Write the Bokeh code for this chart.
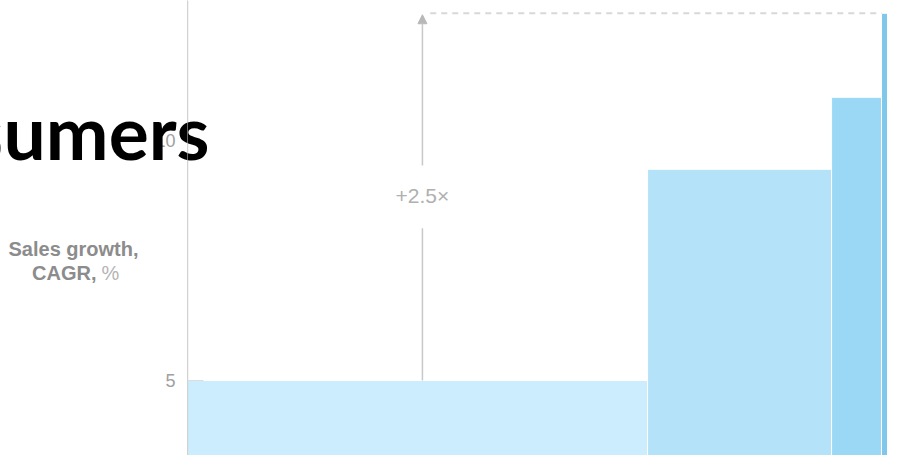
from bokeh.plotting import figure
from bokeh.models import Range1d, FixedTicker, Label, Arrow, NormalHead
from bokeh.layouts import row
from bokeh.embed import file_html
from bokeh.resources import INLINE

# ---- data ----
segments = ["Segment A", "Segment B", "Segment C", "Segment D"]
widths = [47.0, 18.8, 5.1, 10.0]          # relative share (bar width)
growth = [5.0, 9.4, 10.9, 12.65]          # Sales growth, CAGR, %
colors = ["#CBEDFD", "#B4E2F8", "#9AD8F6", "#7FC8EC"]
y_ticks = [5, 10]
y_tick_labels = ["5", "10"]
multiple_label = "+2.5\u00d7"
title_fragment = "sumers"
axis_title_1 = "Sales growth,"
axis_title_2 = "CAGR,"
axis_title_3 = "%"

lefts, rights = [], []
acc = 0.0
for w in widths:
    lefts.append(acc)
    rights.append(acc + w)
    acc += w

H = 455
LEFT_W = 187
MAIN_W = 700
x_end = 71.51
yr = Range1d(3.4375, 12.9167)

HEAD_Y = 10.2
HEAD_SIZE = "75px"

# ---------- main chart ----------
p = figure(width=MAIN_W, height=H, output_backend="svg", toolbar_location=None,
           x_range=Range1d(0, x_end), y_range=yr,
           x_axis_location=None, min_border_left=0, min_border_right=0,
           min_border_top=0, min_border_bottom=0)
p.outline_line_color = None
p.grid.visible = False
p.background_fill_color = "white"
p.border_fill_color = "white"

p.quad(left=lefts, right=rights, bottom=[0] * 4, top=growth,
       fill_color=colors, line_color="white", line_width=1)

yaxis = p.yaxis[0]
yaxis.ticker = FixedTicker(ticks=y_ticks)
yaxis.axis_line_color = "#d2d2d2"
yaxis.axis_line_width = 1.5
yaxis.major_tick_in = 16
yaxis.major_tick_out = 0
yaxis.major_tick_line_color = "#dcdcdc"
yaxis.minor_tick_line_color = None
yaxis.major_label_overrides = {t: "" for t in y_ticks}
yaxis.major_label_standoff = 0

arrow_x = 24.0
p.segment(x0=[arrow_x + 0.8], x1=[lefts[3]], y0=[growth[3]], y1=[growth[3]],
          line_color="#d8d8d8", line_width=2, line_dash="6 5")
p.segment(x0=[arrow_x], x1=[arrow_x], y0=[growth[0]], y1=[8.17],
          line_color="#c8c8c8", line_width=1.5)
p.add_layout(Arrow(end=NormalHead(size=9, fill_color="#b8b8b8", line_color="#b8b8b8"),
                   x_start=arrow_x, y_start=9.48, x_end=arrow_x, y_end=growth[3] - 0.03,
                   line_color="#c8c8c8", line_width=1.5))
p.add_layout(Label(x=arrow_x, y=8.85, text=multiple_label, text_align="center",
                   text_baseline="middle", text_color="#b0b0b0",
                   text_font="Liberation Sans", text_font_size="21px"))
# part of heading that crosses the axis
p.add_layout(Label(x=22, y=HEAD_Y, x_units="screen", text=title_fragment,
                   text_align="right", text_baseline="alphabetic",
                   text_color="#000000", text_font="Lato",
                   text_font_style="bold", text_font_size=HEAD_SIZE))

# ---------- left side panel (axis labels + titles) ----------
q = figure(width=LEFT_W, height=H, output_backend="svg", toolbar_location=None,
           x_range=Range1d(0, LEFT_W), y_range=yr,
           x_axis_location=None, y_axis_location=None,
           min_border_left=0, min_border_right=0, min_border_top=0, min_border_bottom=0)
q.outline_line_color = None
q.grid.visible = False
q.background_fill_color = "white"
q.border_fill_color = "white"

q.text(x=[175] * len(y_ticks), y=y_ticks, text=y_tick_labels, text_align="right",
       text_baseline="middle", text_color="#a0a0a0",
       text_font={"value": "Liberation Sans"}, text_font_size="18px")

q.add_layout(Label(x=73, y=7.73, text=axis_title_1, text_align="center",
                   text_baseline="alphabetic", text_color="#8c8c8c",
                   text_font="Liberation Sans", text_font_style="bold",
                   text_font_size="20px"))
q.add_layout(Label(x=96, y=7.25, text=axis_title_2, text_align="right",
                   text_baseline="alphabetic", text_color="#8c8c8c",
                   text_font="Liberation Sans", text_font_style="bold",
                   text_font_size="20px"))
q.add_layout(Label(x=101, y=7.25, text=axis_title_3, text_align="left",
                   text_baseline="alphabetic", text_color="#b4b4b4",
                   text_font="Liberation Sans", text_font_size="20px"))
q.add_layout(Label(x=209, y=HEAD_Y, text=title_fragment, text_align="right",
                   text_baseline="alphabetic", text_color="#000000",
                   text_font="Lato", text_font_style="bold",
                   text_font_size=HEAD_SIZE))

layout = row(q, p, spacing=0)
open("out.html", "w").write(file_html(layout, INLINE))
